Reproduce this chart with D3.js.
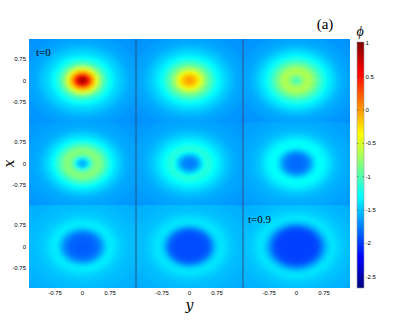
<!DOCTYPE html>
<html><head><meta charset="utf-8">
<script src="https://cdn.jsdelivr.net/npm/d3@7"></script>
<style>html,body{margin:0;padding:0;background:#fff}svg{display:block}</style>
</head><body>
<script>
// ---- data ----
const radii = [0, 0.1, 0.2, 0.3, 0.4, 0.5, 0.6, 0.7, 0.8, 0.9, 1.0, 1.1, 1.2, 1.3, 1.5, 1.7, 2.1];
const phiPanel1 = [0.95, 0.75, 0.4, -0.1, -0.5, -0.8, -1.05, -1.2, -1.3, -1.4, -1.45, -1.5, -1.55, -1.6, -1.63, -1.67, -1.7];
const phiPanel2 = [0.0, -0.05, -0.2, -0.45, -0.7, -0.9, -1.05, -1.2, -1.3, -1.38, -1.45, -1.5, -1.55, -1.6, -1.63, -1.67, -1.7];
const phiPanel3 = [-1.05, -0.95, -0.75, -0.65, -0.7, -0.85, -1.0, -1.15, -1.25, -1.35, -1.42, -1.5, -1.55, -1.6, -1.63, -1.67, -1.7];
const phiPanel4 = [-1.62, -1.5, -1.2, -0.9, -0.8, -0.85, -1.0, -1.15, -1.28, -1.38, -1.45, -1.52, -1.57, -1.6, -1.62, -1.65, -1.68];
const phiPanel5 = [-1.75, -1.75, -1.68, -1.48, -1.25, -1.15, -1.2, -1.28, -1.35, -1.42, -1.48, -1.53, -1.57, -1.6, -1.62, -1.65, -1.68];
const phiPanel6 = [-1.83, -1.83, -1.81, -1.75, -1.6, -1.4, -1.28, -1.27, -1.33, -1.4, -1.47, -1.52, -1.55, -1.58, -1.6, -1.63, -1.66];
const phiPanel7 = [-1.88, -1.88, -1.87, -1.85, -1.8, -1.7, -1.52, -1.38, -1.35, -1.4, -1.45, -1.48, -1.5, -1.52, -1.54, -1.57, -1.6];
const phiPanel8 = [-1.93, -1.93, -1.93, -1.93, -1.92, -1.88, -1.75, -1.52, -1.4, -1.38, -1.42, -1.46, -1.5, -1.52, -1.54, -1.57, -1.6];
const phiPanel9 = [-1.98, -1.98, -1.98, -1.98, -1.98, -1.96, -1.9, -1.75, -1.55, -1.42, -1.38, -1.42, -1.46, -1.5, -1.53, -1.56, -1.6];
const panels = [phiPanel1, phiPanel2, phiPanel3, phiPanel4, phiPanel5, phiPanel6, phiPanel7, phiPanel8, phiPanel9];
const panelLabels = ["t=0", "", "", "", "", "", "", "", "t=0.9"];
const axisTicks = [-0.75, 0, 0.75];
const axisTickLabels = ["-0.75", "0", "0.75"];
const colorTicks = [1, 0.5, 0, -0.5, -1, -1.5, -2, -2.5];
const colorRange = [-2.67, 1.02];

// ---- layout ----
const W = 413, H = 330;
const plot = {left: 29, right: 350, top: 39, bottom: 288};
const svg = d3.select("body").append("svg").attr("width", W).attr("height", H);
const defs = svg.append("defs");

const colBand = d3.scaleBand().domain([0,1,2]).range([plot.left, plot.right]).paddingInner(0);
const rowBand = d3.scaleBand().domain([0,1,2]).range([plot.top, plot.bottom]).paddingInner(0);

// jet colormap
const jetT = [0, 0.125, 0.375, 0.625, 0.875, 1];
const jetC = ["#000080", "#0000ff", "#00ffff", "#ffff00", "#ff0000", "#800000"];
const color = d3.scaleLinear()
  .domain(jetT.map(t => colorRange[0] + t * (colorRange[1] - colorRange[0])))
  .range(jetC).interpolate(d3.interpolateRgb).clamp(true);

defs.append("filter").attr("id", "blur")
  .attr("filterUnits", "userSpaceOnUse")
  .attr("x", 0).attr("y", 0).attr("width", W).attr("height", H)
  .append("feGaussianBlur").attr("stdDeviation", 1.8);

panels.forEach((vals, k) => {
  const col = k % 3, row = Math.floor(k / 3);
  const x0 = colBand(col), y0 = rowBand(row);
  const bw = colBand.bandwidth(), bh = rowBand.bandwidth();
  const xs = d3.scaleLinear().domain([-1.46, 1.46]).range([x0, x0 + bw]);
  const ys = d3.scaleLinear().domain([1.42, -1.42]).range([y0, y0 + bh]);
  defs.append("clipPath").attr("id", "clip" + k)
    .append("rect").attr("x", x0).attr("y", y0).attr("width", bw).attr("height", bh);
  const outer = svg.append("g").attr("clip-path", `url(#clip${k})`);
  const g = outer.append("g").attr("filter", "url(#blur)");
  g.append("rect").attr("x", x0 - 10).attr("y", y0 - 10).attr("width", bw + 20).attr("height", bh + 20)
    .attr("fill", color(vals[vals.length - 1]));
  const rings = radii.map((r, i) => ({
    rOut: i < radii.length - 1 ? (r + radii[i + 1]) / 2 : r,
    v: vals[i]
  })).reverse();
  g.selectAll("ellipse").data(rings).join("ellipse")
    .attr("cx", xs(0)).attr("cy", ys(0))
    .attr("rx", d => xs(d.rOut) - xs(0))
    .attr("ry", d => ys(0) - ys(d.rOut))
    .attr("fill", d => color(d.v));

  // tick labels
  if (col === 0) {
    svg.append("g").selectAll("text").data(axisTicks).join("text")
      .attr("x", x0 - 3).attr("y", d => ys(d) + 2)
      .attr("text-anchor", "end")
      .attr("font-family", "Liberation Sans, Arial, sans-serif").attr("font-size", 6)
      .text((d, i) => axisTickLabels[i]);
  }
  if (row === 2) {
    svg.append("g").selectAll("text").data(axisTicks).join("text")
      .attr("x", d => xs(d)).attr("y", y0 + bh + 7)
      .attr("text-anchor", "middle")
      .attr("font-family", "Liberation Sans, Arial, sans-serif").attr("font-size", 6)
      .text((d, i) => axisTickLabels[i]);
  }
  if (panelLabels[k]) {
    svg.append("text").attr("x", x0 + (k === 0 ? 7 : 5)).attr("y", y0 + (k === 0 ? 17 : 18))
      .attr("font-family", "Liberation Serif, Times New Roman, serif").attr("font-size", 11)
      .text(panelLabels[k]);
  }
});

// column dividers
svg.append("g").selectAll("line").data([1, 2]).join("line")
  .attr("x1", d => colBand(d)).attr("x2", d => colBand(d))
  .attr("y1", plot.top).attr("y2", plot.bottom)
  .attr("stroke", "#2a5680").attr("stroke-width", 1);

// axis labels
svg.append("text").attr("transform", `translate(14,${(plot.top + plot.bottom) / 2}) rotate(-90)`)
  .attr("text-anchor", "middle")
  .attr("font-family", "DejaVu Serif, serif").attr("font-style", "italic").attr("font-size", 14)
  .text("x");
svg.append("text").attr("x", (plot.left + plot.right) / 2).attr("y", 310)
  .attr("text-anchor", "middle")
  .attr("font-family", "DejaVu Serif, serif").attr("font-style", "italic").attr("font-size", 14)
  .text("y");
svg.append("text").attr("x", 325).attr("y", 29).attr("text-anchor", "middle")
  .attr("font-family", "Liberation Serif, Times New Roman, serif").attr("font-size", 15)
  .text("(a)");

// colorbar
const cb = {x: 357, w: 7};
const cScale = d3.scaleLinear().domain(colorRange).range([288, 42]);
const grad = defs.append("linearGradient").attr("id", "jetgrad")
  .attr("x1", 0).attr("y1", 1).attr("x2", 0).attr("y2", 0);
grad.selectAll("stop").data(jetT).join("stop")
  .attr("offset", d => d).attr("stop-color", (d, i) => jetC[i]);
svg.append("rect").attr("x", cb.x).attr("y", cScale(colorRange[1])).attr("width", cb.w)
  .attr("height", cScale(colorRange[0]) - cScale(colorRange[1]))
  .attr("fill", "url(#jetgrad)").attr("stroke", "#999").attr("stroke-width", 0.6);
const cbt = svg.append("g").selectAll("g").data(colorTicks).join("g")
  .attr("transform", d => `translate(0,${cScale(d)})`);
cbt.append("line").attr("x1", cb.x).attr("x2", cb.x + 1.5).attr("stroke", "#333").attr("stroke-width", 0.5);
cbt.append("line").attr("x1", cb.x + cb.w - 1.5).attr("x2", cb.x + cb.w).attr("stroke", "#333").attr("stroke-width", 0.5);
cbt.append("text").attr("x", cb.x + cb.w + 1.5).attr("y", 2)
  .attr("font-family", "Liberation Sans, Arial, sans-serif").attr("font-size", 6)
  .text(d => d);
svg.append("text").attr("x", cb.x + 3).attr("y", 36).attr("text-anchor", "middle")
  .attr("font-family", "Liberation Serif, Times New Roman, serif").attr("font-style", "italic").attr("font-size", 14)
  .text("ϕ");
</script>
</body></html>
